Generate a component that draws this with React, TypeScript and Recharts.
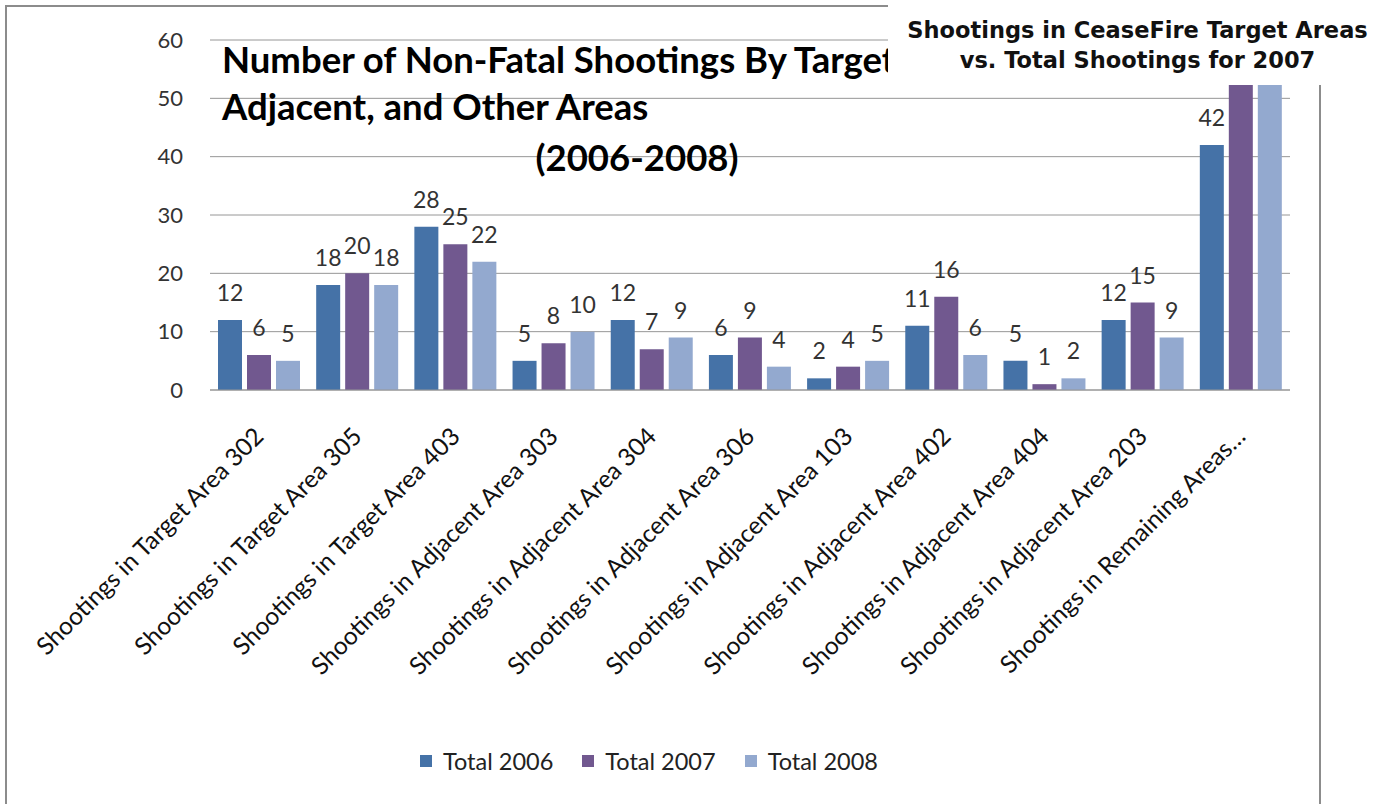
import { BarChart, Bar, XAxis, YAxis, CartesianGrid, Legend, LabelList } from "recharts";

// categories (as shown on the x axis)
const AREAS = [
  "Shootings in Target Area 302",
  "Shootings in Target Area 305",
  "Shootings in Target Area 403",
  "Shootings in Adjacent Area 303",
  "Shootings in Adjacent Area 304",
  "Shootings in Adjacent Area 306",
  "Shootings in Adjacent Area 103",
  "Shootings in Adjacent Area 402",
  "Shootings in Adjacent Area 404",
  "Shootings in Adjacent Area 203",
  "Shootings in Remaining Areas…",
];

const TOTAL_2006 = [12, 18, 28, 5, 12, 6, 2, 11, 5, 12, 42];
// the last two remaining-area bars run off the top of the axis
const TOTAL_2007 = [6, 20, 25, 8, 7, 9, 4, 16, 1, 15, 75];
const TOTAL_2008 = [5, 18, 22, 10, 9, 4, 5, 6, 2, 9, 70];

const Y_TICKS = [0, 10, 20, 30, 40, 50, 60];

const SERIES = [
  { key: "t2006", name: "Total 2006", color: "#4572A7" },
  { key: "t2007", name: "Total 2007", color: "#71588F" },
  { key: "t2008", name: "Total 2008", color: "#93A9CF" },
];

const data = AREAS.map((area, i) => ({
  area,
  t2006: TOTAL_2006[i],
  t2007: TOTAL_2007[i],
  t2008: TOTAL_2008[i],
}));

const FONT = "Lato, 'Open Sans', sans-serif";

function AreaTick({ x, y, payload }: any) {
  return (
    <g transform={`translate(${x + 6},${y + 40})`}>
      <text
        transform="rotate(-45)"
        textAnchor="end"
        fontSize={24.5}
        fontFamily={FONT}
        fill="#111"
      >
        {payload.value}
      </text>
    </g>
  );
}

function ValueLabel(props: any) {
  const { x, y, width, value } = props;
  // bars that overflow the axis have their labels out of view
  if (y - 28 < 0) return null;
  return (
    <text
      x={x + width / 2}
      y={y - 28}
      textAnchor="middle"
      dominantBaseline="central"
      fontSize={23}
      fontFamily={FONT}
      fill="#333"
    >
      {value}
    </text>
  );
}

function LegendRow() {
  return (
    <div
      style={{
        display: "flex",
        alignItems: "center",
        gap: 29,
        fontFamily: FONT,
        fontSize: 23.5,
        color: "#222",
        paddingLeft: 270,
      }}
    >
      {SERIES.map((s) => (
        <div key={s.key} style={{ display: "flex", alignItems: "center" }}>
          <span
            style={{
              width: 12,
              height: 12,
              background: s.color,
              display: "inline-block",
              marginRight: 11,
            }}
          />
          {s.name}
        </div>
      ))}
    </div>
  );
}

export default function App() {
  return (
    <div
      style={{
        position: "absolute",
        left: 0,
        top: 0,
        width: 1387,
        height: 804,
        overflow: "hidden",
        background: "#fff",
      }}
    >
      {/* frame of the chart object */}
      <div
        style={{
          position: "absolute",
          left: 5,
          top: 5,
          width: 1312,
          height: 900,
          borderLeft: "2px solid #8c8c8c",
          borderTop: "2px solid #8c8c8c",
          borderRight: "2px solid #8c8c8c",
        }}
      />

      <div style={{ position: "absolute", left: 0, top: 0 }}>
        <BarChart
          width={1387}
          height={804}
          data={data}
          margin={{ top: 40, right: 97, left: 150, bottom: 27 }}
          barCategoryGap={8}
          barGap={5}
        >
          <CartesianGrid vertical={false} stroke="#969696" strokeWidth={1} />
          <XAxis
            dataKey="area"
            interval={0}
            height={357}
            tickLine={false}
            axisLine={{ stroke: "#969696" }}
            tick={<AreaTick />}
          />
          <YAxis
            width={60}
            domain={[0, 60]}
            ticks={Y_TICKS}
            allowDataOverflow
            axisLine={false}
            tickLine={false}
            tickSize={0}
            tickMargin={27}
            tick={{ fontSize: 22, fontFamily: FONT, fill: "#333" }}
          />
          <Legend
            verticalAlign="bottom"
            height={30}
            content={() => <LegendRow />}
          />
          {SERIES.map((s) => (
            <Bar
              key={s.key}
              dataKey={s.key}
              name={s.name}
              fill={s.color}
              isAnimationActive={false}
            >
              <LabelList dataKey={s.key} content={<ValueLabel />} />
            </Bar>
          ))}
        </BarChart>
      </div>

      {/* chart title, partly hidden under the caption box */}
      <svg
        width={1387}
        height={200}
        style={{ position: "absolute", left: 0, top: 0, pointerEvents: "none" }}
      >
        <g fontFamily={FONT} fontWeight="bold" fontSize={36.5} fill="#000">
          <text x={222} y={73}>
            Number of Non-Fatal Shootings By Target,
          </text>
          <text x={222} y={120}>
            Adjacent, and Other Areas
          </text>
          <text x={637} y={171} textAnchor="middle">
            (2006-2008)
          </text>
        </g>
      </svg>

      {/* caption box in the top right corner */}
      <div
        style={{
          position: "absolute",
          left: 888,
          top: 0,
          width: 499,
          height: 85,
          background: "#fff",
          fontFamily: "'DejaVu Sans', sans-serif",
          fontWeight: "bold",
          fontSize: 22.5,
          lineHeight: "30px",
          textAlign: "center",
          color: "#111",
          paddingTop: 15,
          boxSizing: "border-box",
        }}
      >
        <div>Shootings in CeaseFire Target Areas</div>
        <div>vs. Total Shootings for 2007</div>
      </div>
    </div>
  );
}
